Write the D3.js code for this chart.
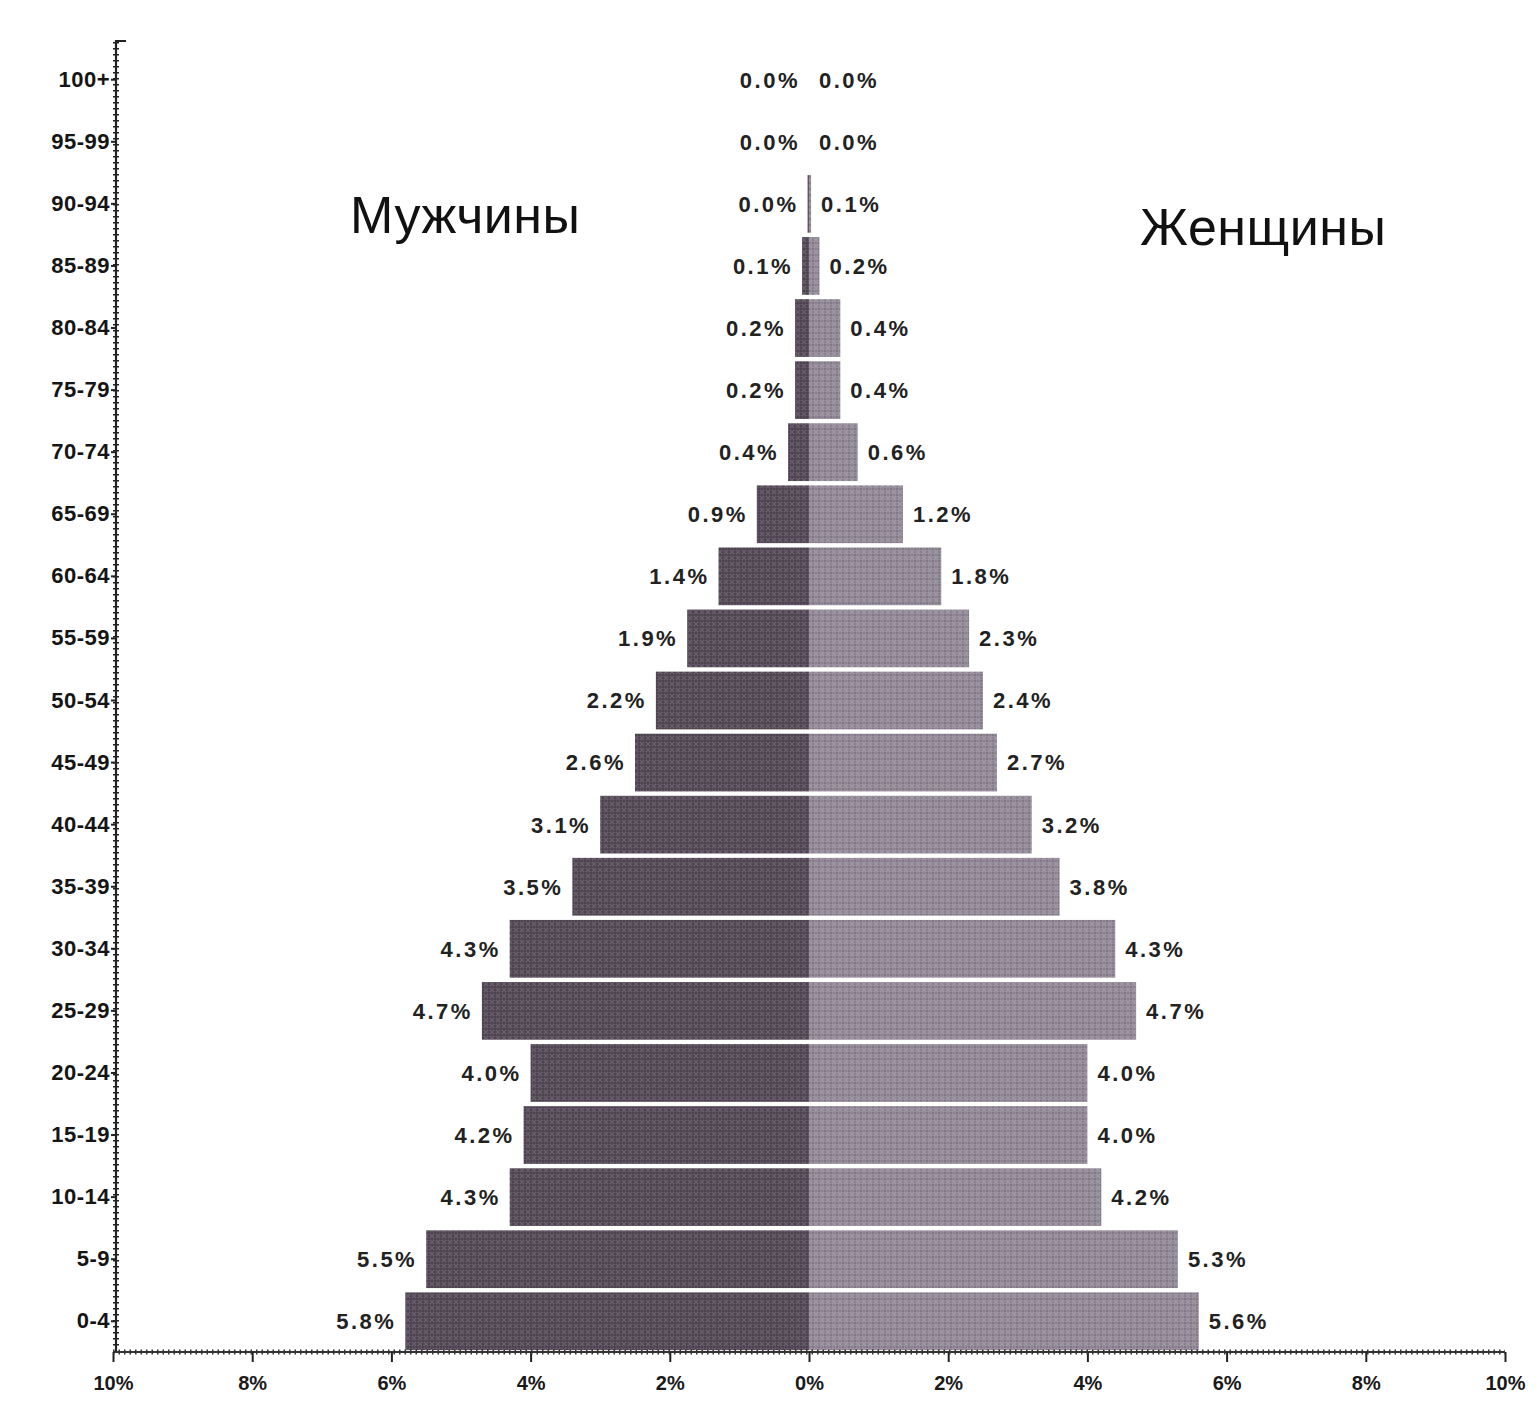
<!DOCTYPE html>
<html>
<head>
<meta charset="utf-8">
<script src="https://cdn.jsdelivr.net/npm/d3@7"></script>
<style>
  html, body { margin: 0; padding: 0; background: #fff; }
  svg { display: block; }
</style>
</head>
<body>
<svg id="chart" width="1536" height="1412"></svg>
<script>
// ---- data ----
const ages = ["0-4","5-9","10-14","15-19","20-24","25-29","30-34","35-39","40-44","45-49",
              "50-54","55-59","60-64","65-69","70-74","75-79","80-84","85-89","90-94","95-99","100+"];
const male   = [5.8, 5.5, 4.3, 4.1, 4.0, 4.7, 4.3, 3.4, 3.0, 2.5, 2.2, 1.75, 1.3, 0.75, 0.3, 0.2, 0.2, 0.1, 0.02, 0, 0];
const female = [5.6, 5.3, 4.2, 4.0, 4.0, 4.7, 4.4, 3.6, 3.2, 2.7, 2.5, 2.3, 1.9, 1.35, 0.7, 0.45, 0.45, 0.15, 0.03, 0, 0];
const maleLabels   = ["5.8%","5.5%","4.3%","4.2%","4.0%","4.7%","4.3%","3.5%","3.1%","2.6%","2.2%","1.9%","1.4%","0.9%","0.4%","0.2%","0.2%","0.1%","0.0%","0.0%","0.0%"];
const femaleLabels = ["5.6%","5.3%","4.2%","4.0%","4.0%","4.7%","4.3%","3.8%","3.2%","2.7%","2.4%","2.3%","1.8%","1.2%","0.6%","0.4%","0.4%","0.2%","0.1%","0.0%","0.0%"];
const xTicks = [-10,-8,-6,-4,-2,0,2,4,6,8,10];
const xTickLabels = ["10%","8%","6%","4%","2%","0%","2%","4%","6%","8%","10%"];
const sideTitles = ["Мужчины","Женщины"];

// ---- layout ----
const svg = d3.select("#chart");
const x = d3.scaleLinear().domain([-10, 10]).range([113, 1505]);
const y = d3.scaleBand().domain(ages).range([1352, 49]).paddingInner(0.07).paddingOuter(0.03);

// patterns
const defs = svg.append("defs");
function pattern(id, base, light, dark) {
  const p = defs.append("pattern").attr("id", id).attr("patternUnits", "userSpaceOnUse")
    .attr("width", 6).attr("height", 6);
  p.append("rect").attr("width", 6).attr("height", 6).attr("fill", base);
  p.append("path").attr("d", "M0,0L6,6M6,0L0,6").attr("stroke", light).attr("stroke-width", 1.2).attr("opacity", 0.55);
  p.append("circle").attr("cx", 3).attr("cy", 3).attr("r", 1.1).attr("fill", dark).attr("opacity", 0.6);
}
pattern("pm", "#4f4451", "#857a88", "#2a222c");
pattern("pf", "#8c8391", "#b7aebb", "#5c5462");

const rows = ages.map((a, i) => ({age: a, m: male[i], f: female[i], ml: maleLabels[i], fl: femaleLabels[i]}));

// bars
const g = svg.append("g");
g.selectAll("rect.m").data(rows).join("rect").attr("class", "m")
  .attr("x", d => x(-d.m)).attr("width", d => x(0) - x(-d.m))
  .attr("y", d => y(d.age)).attr("height", y.bandwidth())
  .attr("fill", "url(#pm)");
g.selectAll("rect.f").data(rows).join("rect").attr("class", "f")
  .attr("x", x(0)).attr("width", d => x(d.f) - x(0))
  .attr("y", d => y(d.age)).attr("height", y.bandwidth())
  .attr("fill", "url(#pf)");

// value labels
const lblFont = "'Liberation Sans', Arial, sans-serif";
g.selectAll("text.ml").data(rows).join("text").attr("class", "ml")
  .attr("x", d => x(-d.m) - 9).attr("y", d => y(d.age) + y.bandwidth() / 2)
  .attr("dy", "0.36em").attr("text-anchor", "end")
  .attr("font-family", lblFont).attr("font-weight", "bold").attr("font-size", 22)
  .attr("letter-spacing", 2.5).attr("fill", "#222").text(d => d.ml);
g.selectAll("text.fl").data(rows).join("text").attr("class", "fl")
  .attr("x", d => x(d.f) + 10).attr("y", d => y(d.age) + y.bandwidth() / 2)
  .attr("dy", "0.36em").attr("text-anchor", "start")
  .attr("font-family", lblFont).attr("font-weight", "bold").attr("font-size", 22)
  .attr("letter-spacing", 2.5).attr("fill", "#222").text(d => d.fl);

// y axis
const yAxisX = 116;
const yAxis = d3.axisLeft(y).tickSize(5).tickPadding(1);
const ya = svg.append("g").attr("transform", `translate(${yAxisX},0)`).call(yAxis);
ya.select(".domain").remove();
ya.selectAll(".tick line").attr("stroke", "#222").attr("stroke-width", 2);
ya.selectAll(".tick text").attr("font-family", lblFont).attr("font-weight", "bold")
  .attr("font-size", 22).attr("letter-spacing", 0.5).attr("fill", "#151515");
ya.append("line").attr("x1", 0).attr("x2", 0).attr("y1", 40).attr("y2", 1352)
  .attr("stroke", "#222").attr("stroke-width", 2.2);
ya.append("line").attr("x1", 0).attr("x2", 0).attr("y1", 42).attr("y2", 1350)
  .attr("stroke", "#222").attr("stroke-width", 6).attr("stroke-dasharray", "1.5,4.5");
ya.append("line").attr("x1", 0).attr("x2", 10).attr("y1", 41).attr("y2", 41)
  .attr("stroke", "#222").attr("stroke-width", 2);

// x axis
const xAxis = d3.axisBottom(x).tickValues(xTicks).tickSize(10).tickPadding(14)
  .tickFormat((d, i) => xTickLabels[i]);
const xa = svg.append("g").attr("transform", `translate(0,1352)`).call(xAxis);
xa.select(".domain").attr("stroke", "#333").attr("stroke-width", 2).attr("d", `M${x(-10)},0H${x(10)}`);
xa.append("line").attr("x1", x(-10)).attr("x2", x(10)).attr("y1", 0).attr("y2", 0)
  .attr("stroke", "#333").attr("stroke-width", 5).attr("stroke-dasharray", "1.5,4");
xa.selectAll(".tick line").attr("stroke", "#222").attr("stroke-width", 2);
xa.selectAll(".tick text").attr("font-family", lblFont).attr("font-weight", "bold")
  .attr("font-size", 20).attr("fill", "#1a1a1a");

// side titles
svg.append("text").attr("x", 350).attr("y", 233).attr("font-family", lblFont)
  .attr("font-size", 52).attr("letter-spacing", 0.5).attr("fill", "#111").text(sideTitles[0]);
svg.append("text").attr("x", 1140).attr("y", 245).attr("font-family", lblFont)
  .attr("font-size", 52).attr("letter-spacing", 0.5).attr("fill", "#111").text(sideTitles[1]);
</script>
</body>
</html>
